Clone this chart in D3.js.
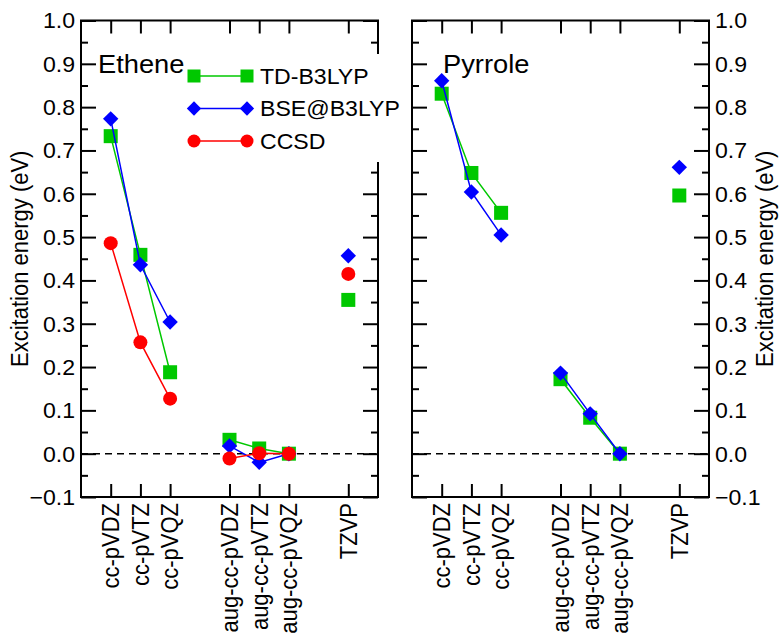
<!DOCTYPE html>
<html>
<head>
<meta charset="utf-8">
<script src="https://cdn.jsdelivr.net/npm/d3@7"></script>
<style>
  body { margin: 0; background: #fff; }
  svg { display: block; }
  text { font-family: "Liberation Sans", Arial, sans-serif; fill: #000; }
</style>
</head>
<body>
<div id="chart"></div>
<script>
// ---------------- data ----------------
const categories = ["cc-pVDZ", "cc-pVTZ", "cc-pVQZ", "aug-cc-pVDZ", "aug-cc-pVTZ", "aug-cc-pVQZ", "TZVP"];
const slots = [1, 2, 3, 5, 6, 7, 9];               // x slot (data units) of each category
const lineGroups = [[0, 1, 2], [3, 4, 5]];          // connected points
const seriesNames = ["TD-B3LYP", "BSE@B3LYP", "CCSD"];
const seriesColors = ["#00c800", "#0000ff", "#ff0000"];
const seriesShapes = ["square", "diamond", "circle"];

const etheneTD   = [0.733, 0.459, 0.188, 0.032, 0.012, 0.000, 0.355];
const etheneBSE  = [0.773, 0.436, 0.304, 0.018, -0.020, 0.000, 0.457];
const etheneCCSD = [0.486, 0.257, 0.127, -0.011, 0.001, 0.000, 0.415];
const pyrroleTD  = [0.831, 0.648, 0.556, 0.172, 0.083, 0.000, 0.596];
const pyrroleBSE = [0.861, 0.604, 0.505, 0.186, 0.092, 0.000, 0.661];

const yTicks = [-0.1, 0.0, 0.1, 0.2, 0.3, 0.4, 0.5, 0.6, 0.7, 0.8, 0.9, 1.0];
const yMinorTicks = [-0.05, 0.05, 0.15, 0.25, 0.35, 0.45, 0.55, 0.65, 0.75, 0.85, 0.95];
const yLabel = "Excitation energy  (eV)";

// ---------------- layout ----------------
const W = 780, H = 639;
const yTop = 20.5, yBottom = 497;
const panels = [
  { title: "Ethene",  x0: 81,  x1: 378, series: [etheneTD, etheneBSE, etheneCCSD], labelsLeft: true },
  { title: "Pyrrole", x0: 412, x1: 709, series: [pyrroleTD, pyrroleBSE], labelsLeft: false }
];
const FS = 22;
const SX = 1.05;   // horizontal stretch of horizontal text

const svg = d3.select("#chart").append("svg").attr("width", W).attr("height", H);
const y = d3.scaleLinear().domain([-0.1, 1.0]).range([yBottom, yTop]);

function htext(g, x, yy, str, size, anchor) {
  return g.append("text").attr("transform", `translate(${x},${yy}) scale(${SX},1)`)
    .attr("text-anchor", anchor || "start").attr("font-size", size).text(str);
}

function marker(g, shape, cx, cy, color, size) {
  if (shape === "square") {
    g.append("rect").attr("x", cx - size / 2).attr("y", cy - size / 2)
      .attr("width", size).attr("height", size).attr("fill", color);
  } else if (shape === "diamond") {
    const r = size * 0.55;
    g.append("path").attr("d", `M${cx},${cy - r}L${cx + r},${cy}L${cx},${cy + r}L${cx - r},${cy}Z`)
      .attr("fill", color);
  } else {
    g.append("circle").attr("cx", cx).attr("cy", cy).attr("r", size / 2).attr("fill", color);
  }
}

const fmt = d3.format(".1f");

panels.forEach((p, pi) => {
  const x = d3.scaleLinear().domain([0, 10]).range([p.x0, p.x1]);
  const g = svg.append("g");

  // zero dashed line
  g.append("line").attr("x1", p.x0).attr("x2", p.x1).attr("y1", y(0)).attr("y2", y(0))
    .attr("stroke", "#000").attr("stroke-width", 1.5).attr("stroke-dasharray", "7,5");

  // data
  p.series.forEach((vals, si) => {
    const color = seriesColors[si];
    const line = d3.line().x(i => x(slots[i])).y(i => y(vals[i]));
    lineGroups.forEach(grp => {
      g.append("path").attr("d", line(grp)).attr("fill", "none")
        .attr("stroke", color).attr("stroke-width", 1.5);
    });
    vals.forEach((v, i) => marker(g, seriesShapes[si], x(slots[i]), y(v), color, 14));
  });

  // frame
  g.append("rect").attr("x", p.x0).attr("y", yTop).attr("width", p.x1 - p.x0).attr("height", yBottom - yTop)
    .attr("fill", "none").attr("stroke", "#000").attr("stroke-width", 2);

  // y axes (inward ticks both sides)
  const leftAx = d3.axisRight(y).tickValues(yTicks).tickSize(15).tickFormat("");
  const leftMinor = d3.axisRight(y).tickValues(yMinorTicks).tickSize(7).tickFormat("");
  const rightAx = d3.axisLeft(y).tickValues(yTicks).tickSize(15).tickFormat("");
  const rightMinor = d3.axisLeft(y).tickValues(yMinorTicks).tickSize(7).tickFormat("");
  [[leftAx, p.x0], [leftMinor, p.x0], [rightAx, p.x1], [rightMinor, p.x1]].forEach(([ax, xx]) => {
    const a = g.append("g").attr("transform", `translate(${xx},0)`).call(ax);
    a.select(".domain").remove();
    a.selectAll("line").attr("stroke-width", 2);
  });

  // y tick labels
  yTicks.forEach(t => {
    if (p.labelsLeft) htext(g, p.x0 - 6, y(t), fmt(t), FS, "end").attr("dy", "0.36em");
    else htext(g, p.x1 + 6, y(t), fmt(t), FS, "start").attr("dy", "0.36em");
  });

  // x ticks (top and bottom, inward)
  const xb = d3.axisTop(x).tickValues(slots).tickSize(13).tickFormat("");
  const xt = d3.axisBottom(x).tickValues(slots).tickSize(13).tickFormat("");
  [[xb, yBottom], [xt, yTop]].forEach(([ax, yy]) => {
    const a = g.append("g").attr("transform", `translate(0,${yy})`).call(ax);
    a.select(".domain").remove();
    a.selectAll("line").attr("stroke-width", 2);
  });

  // x category labels (rotated)
  categories.forEach((c, i) => {
    g.append("text").attr("transform", `translate(${x(slots[i])},${yBottom + 6}) scale(${SX},1) rotate(-90)`)
      .attr("text-anchor", "end").attr("dy", "0.36em").attr("font-size", FS).text(c);
  });

  // title
  htext(g, pi === 0 ? 98 : 443, 73, p.title, 26, "start");
});

// legend (white box over left panel's right spine)
const lg = svg.append("g");
lg.append("rect").attr("x", 186).attr("y", 54).attr("width", 222).attr("height", 108).attr("fill", "#fff");
seriesNames.forEach((n, i) => {
  const ly = 76 + i * 32.5;
  lg.append("line").attr("x1", 194).attr("x2", 247).attr("y1", ly).attr("y2", ly)
    .attr("stroke", seriesColors[i]).attr("stroke-width", 1.5);
  marker(lg, seriesShapes[i], 194, ly, seriesColors[i], 13);
  marker(lg, seriesShapes[i], 247, ly, seriesColors[i], 13);
  htext(lg, 260, ly, n, FS, "start").attr("dy", "0.36em");
});

// axis titles
const midY = (yTop + yBottom) / 2;
svg.append("text").attr("transform", `translate(28,${midY}) scale(${SX},1) rotate(-90)`)
  .attr("text-anchor", "middle").attr("font-size", FS).text(yLabel);
svg.append("text").attr("transform", `translate(773,${midY}) scale(${SX},1) rotate(-90)`)
  .attr("text-anchor", "middle").attr("font-size", FS).text(yLabel);
</script>
</body>
</html>
